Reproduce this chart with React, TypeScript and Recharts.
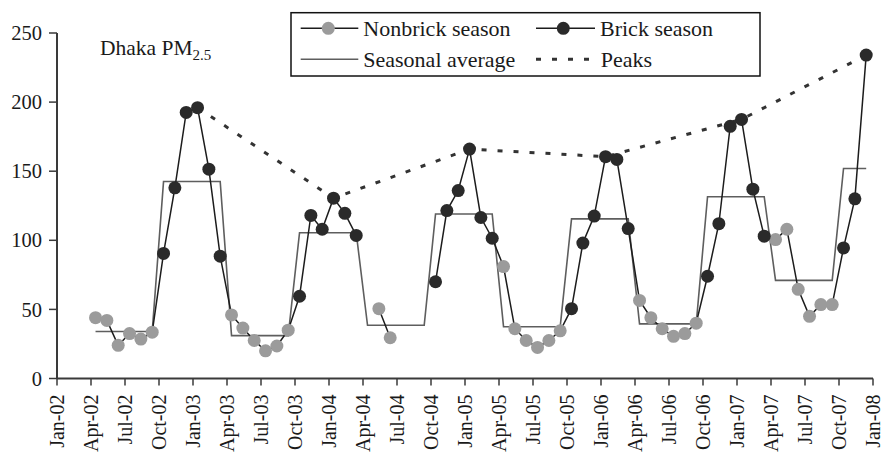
import React from 'react';
import { ComposedChart, Line, XAxis, YAxis } from 'recharts';

// ---- data ----
const monthLabels = [
  'Apr-02','May-02','Jun-02','Jul-02','Aug-02','Sep-02',
  'Oct-02','Nov-02','Dec-02','Jan-03','Feb-03','Mar-03',
  'Apr-03','May-03','Jun-03','Jul-03','Aug-03','Sep-03',
  'Oct-03','Nov-03','Dec-03','Jan-04','Feb-04','Mar-04',
  'Apr-04','May-04','Jun-04','Jul-04','Aug-04','Sep-04',
  'Oct-04','Nov-04','Dec-04','Jan-05','Feb-05','Mar-05',
  'Apr-05','May-05','Jun-05','Jul-05','Aug-05','Sep-05',
  'Oct-05','Nov-05','Dec-05','Jan-06','Feb-06','Mar-06',
  'Apr-06','May-06','Jun-06','Jul-06','Aug-06','Sep-06',
  'Oct-06','Nov-06','Dec-06','Jan-07','Feb-07','Mar-07',
  'Apr-07','May-07','Jun-07','Jul-07','Aug-07','Sep-07',
  'Oct-07','Nov-07','Dec-07',
];

const pmValues: (number | null)[] = [
  44, 42, 24, 32.5, 28.5, 33.5,
  90.5, 138, 192.5, 196, 151.5, 88.5,
  46, 36.5, 27.5, 20, 23.5, 35,
  59.5, 118, 108, 130.5, 119.5, 103.5,
  null, 50.5, 29.5, null, null, null,
  70, 121.5, 136, 166, 116.5, 101.5,
  81, 36, 27.5, 22.5, 27.5, 34.5,
  50.5, 98, 117.5, 160.5, 158.5, 108.5,
  56.5, 44, 36, 30.5, 32.5, 40,
  74, 112, 182.5, 187.5, 137, 103,
  100.5, 108, 64.5, 45, 53.5, 53.5,
  94.5, 130, 234,
];

// one seasonal average per six-month season (Apr-Sep nonbrick, Oct-Mar brick)
const seasonalAverages = [34, 142.5, 31, 105.5, 38.5, 119, 37.5, 115.5, 39.5, 131.5, 71, 152];

const peakMonths = ['Jan-03', 'Jan-04', 'Jan-05', 'Jan-06', 'Jan-07', 'Dec-07'];

const xTickLabels = [
  'Jan-02','Apr-02','Jul-02','Oct-02','Jan-03','Apr-03','Jul-03','Oct-03',
  'Jan-04','Apr-04','Jul-04','Oct-04','Jan-05','Apr-05','Jul-05','Oct-05',
  'Jan-06','Apr-06','Jul-06','Oct-06','Jan-07','Apr-07','Jul-07','Oct-07','Jan-08',
];
const yTicks = [0, 50, 100, 150, 200, 250];

const legendNames = ['Nonbrick season', 'Brick season', 'Seasonal average', 'Peaks'];

// ---- helpers ----
const MON = ['Jan','Feb','Mar','Apr','May','Jun','Jul','Aug','Sep','Oct','Nov','Dec'];
const monthIndex = (label: string) => {
  const [m, y] = label.split('-');
  return (parseInt(y, 10) - 2) * 12 + MON.indexOf(m);
};
const isBrick = (label: string) => {
  const m = MON.indexOf(label.split('-')[0]);
  return m >= 9 || m <= 2;
};

const data = monthLabels.map((label, i) => {
  const v = pmValues[i];
  const brick = isBrick(label);
  return {
    label,
    x: monthIndex(label) + 0.4,
    pm: v,
    seasonal: seasonalAverages[Math.floor(i / 6)],
    nonbrick: !brick ? v : null,
    brick: brick ? v : null,
    peak: peakMonths.includes(label) ? v : null,
  };
});

const xTickValues = xTickLabels.map(monthIndex);

const FONT = 'Liberation Serif, DejaVu Serif, serif';
const fontStyle = { fontFamily: FONT };
const BLACK_DOT = '#2a2a2a';
const GRAY_DOT = '#9b9b9b';
const LINE_BLACK = '#1c1c1c';
const SEASON_GRAY = '#5e5e5e';
const AXIS = '#3a3a3a';

const XTick = (props: any) => {
  const { x, y, payload } = props;
  const idx = xTickValues.indexOf(payload.value);
  return (
    <g transform={`translate(${x},${y})`}>
      <text
        transform="rotate(-90)"
        textAnchor="end"
        dy="0.35em"
        fontSize={20}
        style={fontStyle}
        fill="#1a1a1a"
      >
        {xTickLabels[idx]}
      </text>
    </g>
  );
};

const YTick = (props: any) => {
  const { x, y, payload } = props;
  return (
    <text x={x} y={y} dy="0.35em" textAnchor="end" fontSize={20.5} style={fontStyle} fill="#1a1a1a">
      {payload.value}
    </text>
  );
};

export default function App() {
  return (
    <div style={{ position: 'absolute', left: 0, top: 0, width: 882, height: 456, background: '#fff', fontFamily: FONT }}>
      <ComposedChart
        width={882}
        height={456}
        data={data}
        margin={{ top: 33, right: 9, bottom: 0, left: 0 }}
        style={fontStyle}
      >
        <XAxis
          type="number"
          dataKey="x"
          domain={[0, 72]}
          ticks={xTickValues}
          interval={0}
          height={77.5}
          tickSize={7}
          tickMargin={9}
          tick={<XTick />}
          stroke={AXIS}
          strokeWidth={2}
          tickLine={{ stroke: AXIS, strokeWidth: 1.5 }}
        />
        <YAxis
          type="number"
          domain={[0, 250]}
          ticks={yTicks}
          width={57}
          tickSize={8}
          tickMargin={7}
          stroke={AXIS}
          strokeWidth={2}
          tickLine={{ stroke: AXIS, strokeWidth: 1.5 }}
          tick={<YTick />}
          interval={0}
        />
        <Line
          dataKey="seasonal"
          stroke={SEASON_GRAY}
          strokeWidth={1.6}
          dot={false}
          activeDot={false}
          isAnimationActive={false}
        />
        <Line
          dataKey="pm"
          stroke={LINE_BLACK}
          strokeWidth={1.5}
          dot={false}
          activeDot={false}
          connectNulls={false}
          isAnimationActive={false}
        />
        <Line
          dataKey="peak"
          stroke="#333"
          strokeWidth={3}
          strokeDasharray="5 11"
          dot={false}
          activeDot={false}
          connectNulls
          isAnimationActive={false}
        />
        <Line
          dataKey="nonbrick"
          stroke="none"
          dot={{ r: 6.5, fill: GRAY_DOT, stroke: 'none' }}
          activeDot={false}
          isAnimationActive={false}
        />
        <Line
          dataKey="brick"
          stroke="none"
          dot={{ r: 6.5, fill: BLACK_DOT, stroke: 'none' }}
          activeDot={false}
          isAnimationActive={false}
        />
      </ComposedChart>
      <svg
        width={882}
        height={456}
        style={{ position: 'absolute', left: 0, top: 0, pointerEvents: 'none', fontFamily: FONT }}
      >
        <text x={100} y={55} fontSize={21.5} fill="#1a1a1a" style={fontStyle}>
          Dhaka PM
          <tspan fontSize={15} dy={5}>2.5</tspan>
        </text>
        <rect x={291} y={12.7} width={469} height={63.3} fill="#fff" stroke="#111" strokeWidth={1.5} />
        {/* row 1 */}
        <line x1={300.7} x2={358.3} y1={28.3} y2={28.3} stroke={LINE_BLACK} strokeWidth={1.5} />
        <circle cx={328.3} cy={28.3} r={6.5} fill={GRAY_DOT} />
        <text x={363.3} y={28.3} dy="0.35em" fontSize={22} fill="#1a1a1a" style={fontStyle}>{legendNames[0]}</text>
        <line x1={536} x2={595} y1={28.3} y2={28.3} stroke={LINE_BLACK} strokeWidth={1.5} />
        <circle cx={563.3} cy={28.3} r={6.5} fill={BLACK_DOT} />
        <text x={600} y={28.3} dy="0.35em" fontSize={22} fill="#1a1a1a" style={fontStyle}>{legendNames[1]}</text>
        {/* row 2 */}
        <line x1={300.7} x2={358.3} y1={59.3} y2={59.3} stroke={SEASON_GRAY} strokeWidth={1.6} />
        <text x={363.3} y={59.3} dy="0.35em" fontSize={22} fill="#1a1a1a" style={fontStyle}>{legendNames[2]}</text>
        <line x1={536} x2={595} y1={59.3} y2={59.3} stroke="#333" strokeWidth={3} strokeDasharray="5 11" />
        <text x={600.7} y={59.3} dy="0.35em" fontSize={22} fill="#1a1a1a" style={fontStyle}>{legendNames[3]}</text>
      </svg>
    </div>
  );
}
